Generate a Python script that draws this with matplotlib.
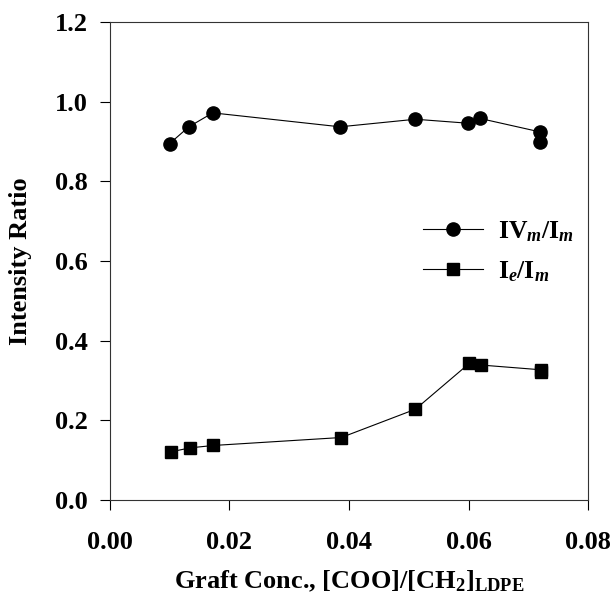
import numpy as np
import matplotlib
matplotlib.use('Agg')
import matplotlib.pyplot as plt

# data
conc_iv = [0.0100, 0.0132, 0.0172, 0.0385, 0.0511, 0.0599, 0.0619, 0.0720, 0.0720]
ratio_iv = [0.895, 0.937, 0.972, 0.937, 0.956, 0.946, 0.958, 0.924, 0.900]
conc_ie = [0.0102, 0.0134, 0.0173, 0.0387, 0.0511, 0.0601, 0.0620, 0.0721, 0.0721]
ratio_ie = [0.121, 0.131, 0.137, 0.157, 0.228, 0.343, 0.339, 0.327, 0.322]
xticks = [0.00, 0.02, 0.04, 0.06, 0.08]
yticks = [0.0, 0.2, 0.4, 0.6, 0.8, 1.0, 1.2]

plt.rcParams['font.family'] = 'Liberation Serif'
plt.rcParams['font.weight'] = 'bold'
plt.rcParams['mathtext.fontset'] = 'custom'
plt.rcParams['mathtext.rm'] = 'Liberation Serif:bold'
plt.rcParams['mathtext.it'] = 'Liberation Serif:italic:bold'
plt.rcParams['mathtext.bf'] = 'Liberation Serif:bold'


def main():
    fig = plt.figure(figsize=(6.14, 5.96), dpi=100)
    ax = fig.add_axes([0.179, 0.161, 0.779, 0.802])

    ax.plot(conc_iv, ratio_iv, color='black', lw=0.8, marker='o', ms=9.5,
            label=r'$\mathrm{IV}_m/\mathrm{I}_m$')
    ax.plot(conc_ie, ratio_ie, color='black', lw=0.8, marker='s', ms=8,
            label=r'$\mathrm{I}_e/\mathrm{I}_m$')

    ax.set_xlim(0, 0.08)
    ax.set_ylim(0, 1.2)
    ax.set_xticks(xticks)
    ax.set_yticks(yticks)
    ax.set_xticklabels(['%.2f' % v for v in xticks])
    ax.set_yticklabels(['%.1f' % v for v in yticks])
    ax.tick_params(axis='both', direction='out', length=7, width=0.8, labelsize=19)
    ax.tick_params(axis='x', pad=15)
    ax.tick_params(axis='y', pad=9)
    for sp in ax.spines.values():
        sp.set_linewidth(0.8)
        sp.set_color('#333333')

    ax.set_xlabel(r'Graft Conc., [COO]/[CH$_2$]$_{\mathrm{LDPE}}$', fontsize=19,
                  fontweight='bold', labelpad=11)
    ax.set_ylabel('Intensity Ratio', fontsize=19, fontweight='bold', labelpad=16)

    ax.legend(loc='center left', bbox_to_anchor=(0.655, 0.52), frameon=False,
              fontsize=18.5, handlelength=2.33, handletextpad=0.58, labelspacing=0.6,
              borderpad=0, borderaxespad=0)

    fig.savefig('out.png', dpi=100)


if __name__ == '__main__':
    main()
